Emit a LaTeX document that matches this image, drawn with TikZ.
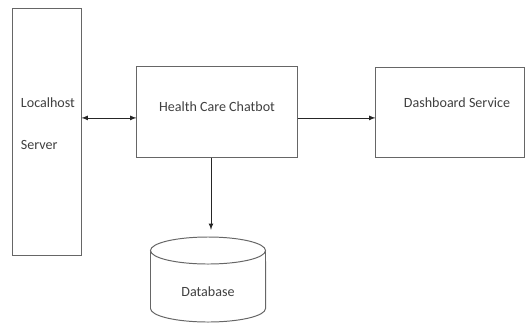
\documentclass[tikz,border=0pt]{standalone}
\usepackage{fontspec}
\setmainfont{Carlito}
\tikzset{
  block/.style={draw=black!60,line width=0.7pt,fill=white},
  link/.style={line width=0.55pt,black!85,-latex}
}
\begin{document}
\begin{tikzpicture}[x=0.025cm,y=-0.025cm,font=\fontsize{10}{12}\selectfont,color=black!75]
\useasboundingbox (0,0) rectangle (527,324);
\node[block,minimum width=1.7cm,minimum height=6.15cm] (server) at (47,132) {};
\node[anchor=west] (srvtop) at (16,103) {Localhost};
\node[anchor=west] (srvbot) at (16,145) {Server};
\node[block,minimum width=4cm,minimum height=2.275cm] (bot) at (217,111.5) {};
\node (bottext) at (217,107) {Health Care Chatbot};
\node[block,minimum width=3.7cm,minimum height=2.25cm] (dash) at (450,112) {};
\node (dashtext) at (457,103) {Dashboard Service};
% database drum
\draw[block] (150.5,250.5) -- (150.5,308.5)
  arc[start angle=180,end angle=360,x radius=1.4375cm,y radius=0.3375cm] -- (265.5,250.5);
\draw[block] (208,250.5) ellipse [x radius=1.4375cm,y radius=0.3375cm];
\coordinate (dbtop) at (208,237);
\node (db) at (208,292) {Database};
\draw[link,latex-latex] ([yshift=-1.6mm]bot.west) -- ([yshift=-1.6mm]bot.west -| server.east);
\draw[link] ([yshift=-1.6mm]bot.east) -- ([yshift=-1.6mm]bot.east -| dash.west);
\draw[link,shorten >=1.8mm] ([xshift=-1.5mm]bot.south) -- ([xshift=-1.5mm]bot.south |- dbtop);
\end{tikzpicture}
\end{document}
